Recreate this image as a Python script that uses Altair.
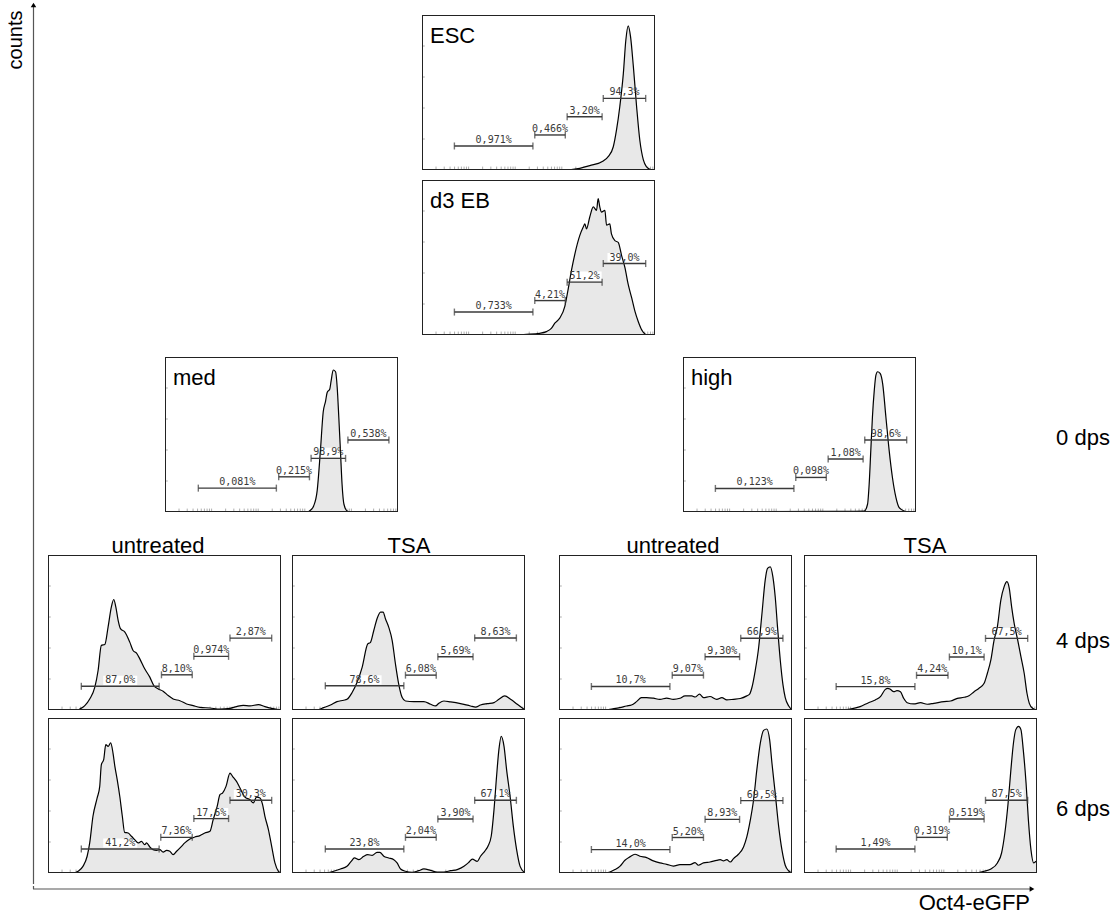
import math
import altair as alt
import pandas as pd

# ---------------- data (x = % of Oct4-eGFP axis, y = % of panel count scale) ----------------
ESC_X = [0, 60.5, 67.7, 72.0, 77.8, 79.9, 82.1, 83.5, 84.9, 86.4, 87.5, 88.5, 89.5, 90.7, 92.1, 93.5, 95.0, 96.4, 97.8, 100]
ESC_Y = [0, 0, 1.1, 2.8, 5.8, 8.6, 15, 26, 41, 62, 84, 93, 86, 67, 41, 19, 6.5, 2, 0.5, 0]
ESC_GATES = [(13.9, 47.6, 15.5, "0,971%"), (48.4, 61.5, 22.6, "0,466%"), (62.3, 77.3, 34.4, "3,20%"), (77.8, 96.0, 46.2, "94,3%")]

EB_X = [0, 40, 44.8, 50.5, 53.4, 55.5, 57.0, 59.1, 61.3, 62.7, 64.1, 65.6, 67.7, 69.2, 69.9, 70.6, 72.0, 73.5, 74.9, 75.6, 76.3, 77.0, 78.5, 79.2, 80.6, 81.3, 82.8, 84.2, 85.7, 87.1, 88.5, 90.0, 91.4, 92.8, 94.3, 96.4, 100]
EB_Y = [0, 0, 0.4, 1.1, 2.2, 4.3, 7.6, 10.9, 18.5, 29.3, 41.3, 52.2, 64.1, 69.6, 71.7, 68.5, 76.1, 82.6, 80.4, 88.0, 82.6, 79.3, 80.4, 70.9, 71.7, 65.2, 60.9, 59.8, 51.1, 43.5, 32.6, 23.9, 15.2, 8.7, 3.3, 0.2, 0]
EB_GATES = [(13.9, 47.6, 14.8, "0,733%"), (48.4, 61.5, 22.2, "4,21%"), (62.3, 77.3, 34.1, "51,2%"), (77.8, 96.0, 46.1, "39,0%")]

MED_X = [0, 61.0, 62.4, 63.8, 65.3, 66.7, 67.9, 68.9, 69.6, 70.7, 71.3, 72.2, 73.2, 73.9, 74.6, 75.3, 76.0, 76.8, 78.2, 79.6, 100]
MED_Y = [0, 0, 1.1, 3.9, 13.6, 39.6, 64.5, 71.4, 77.1, 79.2, 84.6, 91.6, 90.5, 80.5, 61.0, 39.4, 17.7, 5.0, 0.6, 0, 0]
MED_GATES = [(14.3, 47.8, 15.4, "0,081%"), (48.8, 62.0, 22.7, "0,215%"), (62.7, 77.5, 34.6, "98,9%"), (78.5, 96.1, 46.5, "0,538%")]

HIGH_X = [0, 65.6, 77.8, 79.2, 79.9, 80.6, 81.3, 82.1, 82.8, 83.5, 84.6, 85.7, 87.1, 88.5, 89.9, 91.4, 92.8, 95.0, 96.7, 100]
HIGH_Y = [0, 0.4, 0.6, 5.0, 18.0, 39.6, 61.3, 78.6, 88.3, 90.5, 89.4, 82.7, 61.0, 39.4, 22.1, 9.3, 2.8, 0.6, 0, 0]
HIGH_GATES = [(13.9, 47.6, 15.2, "0,123%"), (48.4, 61.5, 22.3, "0,098%"), (62.3, 77.3, 34.2, "1,08%"), (78.0, 96.0, 46.5, "98,6%")]

MU4_X = [0, 12.9, 13.6, 15.8, 17.9, 20.1, 21.5, 22.9, 24.4, 25.8, 27.2, 28.2, 29.1, 30.1, 31.1, 33.0, 35.1, 36.5, 38.0, 39.4, 41.5, 43.7, 45.4, 47.3, 49.4, 51.6, 53.7, 56.6, 59.5, 62.3, 65.2, 69.5, 73.8, 78.1, 80.9, 83.8, 86.7, 90.3, 93.1, 96.0, 100]
MU4_Y = [0, 0, 0.6, 2.8, 7.1, 14.7, 25.5, 41.7, 42.3, 53.6, 66.5, 71.3, 66.5, 57.9, 52.5, 50.3, 43.8, 38.4, 36.7, 33.0, 26.6, 21.2, 15.8, 13.6, 12.1, 9.3, 7.1, 6.0, 3.9, 2.8, 1.7, 1.3, 0.6, 1.1, 2.2, 3.0, 2.6, 3.5, 2.2, 1.1, 0]
MU4_GATES = [(14.3, 47.7, 15.3, "87,0%"), (48.7, 61.9, 22.7, "8,10%"), (62.6, 77.5, 34.6, "0,974%"), (78.1, 96.0, 46.4, "2,87%")]

MT4_X = [0, 10.7, 13.6, 16.5, 19.3, 22.2, 23.6, 25.8, 27.9, 30.1, 32.5, 33.7, 35.1, 36.5, 38.0, 39.1, 40.1, 41.5, 43.0, 44.4, 45.8, 47.3, 48.7, 52.3, 56.6, 59.5, 61.6, 63.0, 65.2, 68.1, 72.3, 76.6, 78.8, 80.9, 83.8, 86.7, 88.8, 91.3, 93.8, 96.7, 100]
MT4_Y = [0, 0, 1.5, 3.2, 5.4, 6.3, 6.9, 11.3, 17.7, 27.5, 42.6, 43.7, 51.3, 58.9, 63.2, 63.2, 58.9, 53.5, 44.8, 29.7, 16.7, 8.0, 5.8, 5.4, 5.4, 3.7, 2.6, 4.3, 5.8, 5.2, 4.1, 2.6, 1.9, 3.2, 4.1, 4.8, 6.9, 9.1, 6.9, 3.7, 0]
MT4_GATES = [(14.3, 48.0, 15.6, "78,6%"), (48.7, 61.9, 22.5, "6,08%"), (62.6, 77.7, 34.4, "5,69%"), (78.4, 96.3, 46.5, "8,63%")]

HU4_X = [0, 20.4, 21.8, 26.1, 29.0, 31.1, 33.3, 35.4, 37.6, 40.5, 43.3, 46.2, 49.1, 51.9, 54.1, 57.0, 58.4, 60.3, 62.0, 64.8, 67.7, 69.9, 72.0, 74.9, 77.8, 80.6, 81.8, 82.8, 84.2, 85.7, 87.1, 88.5, 89.5, 90.7, 91.8, 92.8, 93.8, 95.0, 96.1, 97.1, 98.6, 100]
HU4_Y = [0, 0, 0.4, 1.5, 2.6, 3.2, 5.4, 8.0, 8.0, 7.6, 6.9, 7.6, 6.9, 7.6, 9.1, 9.1, 8.4, 10.2, 8.0, 8.7, 6.9, 8.0, 6.5, 6.9, 7.4, 9.1, 10.2, 14.5, 25.3, 40.5, 62.1, 83.8, 91.3, 92.4, 85.9, 72.9, 53.3, 31.6, 16.5, 8.0, 2.6, 0]
HU4_GATES = [(13.9, 47.6, 15.2, "10,7%"), (48.6, 62.0, 22.5, "9,07%"), (62.7, 77.5, 34.4, "9,30%"), (78.0, 96.1, 46.3, "66,9%")]

HT4_X = [0, 15.5, 19.8, 24.1, 27.7, 30.6, 32.8, 34.9, 36.0, 37.1, 38.5, 39.9, 41.4, 42.8, 44.3, 47.1, 50.0, 52.9, 55.7, 60.1, 62.9, 65.8, 68.7, 70.8, 73.0, 75.1, 77.3, 78.7, 80.2, 81.6, 83.0, 84.5, 85.9, 87.1, 88.1, 89.1, 90.2, 91.7, 93.1, 94.5, 95.7, 96.7, 98.1, 100]
HT4_Y = [0, 0, 0.6, 2.2, 4.7, 6.5, 8.6, 13.3, 14.0, 13.3, 11.8, 12.5, 11.8, 7.5, 4.7, 3.9, 4.7, 3.7, 4.3, 5.4, 5.8, 7.5, 8.2, 9.2, 11.8, 14.0, 17.2, 23.7, 32.3, 45.2, 53.8, 71.0, 79.6, 82.8, 78.5, 66.7, 55.9, 45.2, 34.4, 23.7, 10.8, 4.3, 1.1, 0]
HT4_GATES = [(13.8, 47.6, 15.1, "15,8%"), (48.3, 61.8, 22.4, "4,24%"), (62.4, 77.3, 34.2, "10,1%"), (77.9, 96.0, 46.2, "67,5%")]

MU6_X = [0, 10.7, 12.9, 15.0, 16.8, 17.9, 19.3, 21.1, 22.2, 22.9, 23.9, 24.8, 25.8, 26.9, 27.9, 28.7, 29.7, 30.8, 31.9, 32.9, 34.4, 35.8, 37.2, 38.7, 40.1, 41.5, 42.3, 43.7, 45.1, 46.6, 48.0, 49.4, 50.9, 52.3, 53.7, 55.2, 57.3, 58.7, 60.9, 63.0, 65.2, 67.3, 69.5, 70.9, 72.6, 73.8, 74.9, 76.4, 78.1, 79.2, 80.9, 82.4, 84.5, 86.7, 88.1, 89.5, 91.0, 92.1, 93.1, 94.6, 96.0, 97.4, 98.9, 100]
MU6_Y = [0, 0, 1.1, 4.3, 10.8, 19.4, 36.6, 48.4, 55.9, 69.9, 73.1, 82.8, 81.7, 83.9, 77.4, 68.8, 60.2, 49.5, 36.6, 26.2, 25.8, 23.7, 21.5, 19.4, 20.4, 18.3, 19.4, 16.8, 15.1, 14.6, 15.1, 13.5, 14.6, 14.0, 11.8, 14.0, 17.2, 19.4, 21.9, 23.2, 24.1, 25.8, 26.9, 34.4, 43.0, 50.5, 51.6, 55.9, 64.5, 62.4, 59.1, 54.8, 49.0, 47.3, 45.2, 49.0, 48.4, 44.1, 36.6, 28.0, 17.2, 6.5, 1.1, 0]
MU6_GATES = [(14.3, 47.7, 15.5, "41,2%"), (48.4, 61.9, 23.0, "7,36%"), (62.6, 77.5, 35.1, "17,6%"), (78.1, 96.0, 46.9, "30,3%")]

MT6_X = [0, 15.0, 17.9, 20.8, 23.6, 25.4, 26.8, 28.7, 30.8, 32.5, 34.4, 36.5, 37.7, 39.4, 41.5, 43.7, 45.1, 46.6, 48.7, 51.6, 54.4, 56.6, 59.5, 62.3, 65.2, 68.1, 70.9, 73.8, 75.9, 77.4, 79.5, 80.9, 82.7, 84.1, 85.5, 86.7, 87.8, 88.8, 89.8, 91.0, 92.1, 93.6, 95.0, 96.4, 97.9, 100]
MT6_Y = [0, 0, 1.1, 2.6, 4.3, 7.5, 9.7, 8.6, 10.8, 11.8, 11.4, 13.3, 13.3, 10.8, 9.7, 8.6, 6.5, 2.6, 1.1, 0.4, 1.5, 2.6, 1.7, 0.6, 0.6, 1.5, 2.2, 4.3, 6.9, 9.0, 7.5, 10.8, 14.0, 17.2, 23.7, 40.9, 62.4, 79.6, 88.2, 81.7, 66.7, 49.5, 30.1, 15.1, 4.3, 0]
MT6_GATES = [(14.3, 48.0, 15.5, "23,8%"), (48.7, 61.9, 23.0, "2,04%"), (62.6, 77.7, 34.8, "3,90%"), (78.4, 96.3, 46.9, "67,1%")]

HU6_X = [0, 19.7, 21.8, 24.0, 26.1, 28.3, 30.4, 32.6, 34.7, 37.6, 40.5, 43.3, 46.2, 49.1, 51.9, 56.2, 58.4, 59.8, 62.0, 64.8, 67.7, 69.2, 70.6, 72.0, 73.5, 74.9, 77.0, 79.2, 80.6, 82.1, 83.5, 84.9, 86.4, 87.8, 89.2, 90.4, 91.4, 92.8, 94.3, 95.7, 97.1, 98.6, 100]
HU6_Y = [0, 0, 0.6, 2.2, 4.3, 8.2, 10.4, 12.1, 10.8, 9.9, 7.8, 6.5, 5.6, 4.5, 5.4, 5.4, 6.7, 5.0, 6.5, 7.1, 8.2, 8.6, 7.8, 8.6, 7.1, 9.3, 12.1, 16.8, 23.3, 34.1, 47.1, 66.5, 83.8, 92.0, 92.9, 86.0, 70.8, 51.4, 29.8, 14.7, 5.0, 1.3, 0]
HU6_GATES = [(13.9, 47.6, 15.1, "14,0%"), (48.6, 62.0, 22.9, "5,20%"), (62.7, 77.5, 34.6, "8,93%"), (78.0, 96.1, 46.7, "69,5%")]

HT6_X = [0, 73.7, 77.3, 80.2, 83.0, 84.8, 86.2, 87.6, 88.8, 89.9, 90.9, 92.1, 93.1, 94.1, 95.3, 96.3, 97.4, 98.6, 99.6, 99.9, 100]
HT6_Y = [0, 0, 1.1, 2.6, 6.5, 12.9, 25.8, 45.2, 66.7, 83.9, 92.5, 94.6, 92.5, 79.6, 58.1, 34.4, 15.1, 6.5, 7.5, 5.4, 0]
HT6_GATES = [(13.8, 47.6, 15.5, "1,49%"), (48.3, 61.5, 23.0, "0,319%"), (62.4, 77.3, 34.8, "0,519%"), (77.9, 96.0, 46.9, "87,5%")]

COLUMN_TITLES = ["untreated", "TSA", "untreated", "TSA"]
ROW_LABELS = ["0 dps", "4 dps", "6 dps"]

# log-style minor tick positions along the bottom of each panel (5 decades)
TICK_X = sorted({round(20 * d + 20 * math.log10(k), 2) for d in range(5) for k in range(1, 10)})
TICK_Y = [20, 40, 60, 80]

PW, PH = 233, 155
FILL = "#e8e8e8"
INK = "#3a3a3a"
SANS = "Liberation Sans"
XSC = alt.Scale(domain=[0, 100], nice=False, zero=False)
YSC = alt.Scale(domain=[0, 100], nice=False)
BOX = "M-1,-0.27H1V0.27H-1Z"


def spacer(w, h):
    return alt.Chart(pd.DataFrame({"s": [0]})).mark_point(opacity=0, size=1).encode(
        x=alt.value(w / 2), y=alt.value(h / 2)).properties(width=w, height=h)


def X(field):
    return alt.X(field, scale=XSC, axis=None)


def Y(field):
    return alt.Y(field, scale=YSC, axis=None)


def panel(xs, ys, gates, name=None):
    curve = pd.DataFrame({"x": xs, "y": ys})
    g = pd.DataFrame(gates, columns=["x1", "x2", "y", "label"])
    one = pd.DataFrame({"s": [0]})
    frame = alt.Chart(one).mark_rect(filled=False, stroke="#222222", strokeWidth=2, clip=True).encode(
        x=alt.datum(0, scale=XSC, axis=None), x2=alt.datum(100),
        y=alt.datum(0, scale=YSC, axis=None), y2=alt.datum(100))
    xt = alt.Chart(pd.DataFrame({"t": TICK_X})).mark_rule(color="#999999", strokeWidth=0.8, clip=True).encode(
        x=X("t:Q"), y=alt.datum(0, scale=YSC, axis=None), y2=alt.datum(2.2))
    yt = alt.Chart(pd.DataFrame({"t": TICK_Y})).mark_rule(color="#999999", strokeWidth=0.8, clip=True).encode(
        y=Y("t:Q"), x=alt.datum(0, scale=XSC, axis=None), x2=alt.datum(1.2))
    area = alt.Chart(curve).mark_area(color=FILL, interpolate="monotone", clip=True).encode(
        x=X("x:Q"), y=Y("y:Q"))
    line = alt.Chart(curve).mark_line(color="black", strokeWidth=1.2, interpolate="monotone", clip=True).encode(
        x=X("x:Q"), y=Y("y:Q"))
    glab = alt.Chart(g).transform_calculate(
        xm="(datum.x1 + datum.x2) / 2",
        sz="pow(length(datum.label) * 6 + 4, 2)")
    boxes = glab.mark_point(shape=BOX, filled=True, color="white", opacity=1, yOffset=-6, clip=True).encode(
        x=X("xm:Q"), y=Y("y:Q"), size=alt.Size("sz:Q", scale=None, legend=None))
    bars = alt.Chart(g).mark_rule(color=INK, strokeWidth=1.4, clip=True).encode(
        x=X("x1:Q"), x2="x2:Q", y=Y("y:Q"))
    cap1 = alt.Chart(g).mark_tick(orient="vertical", color=INK, size=7, thickness=1.4, clip=True).encode(
        x=X("x1:Q"), y=Y("y:Q"))
    cap2 = alt.Chart(g).mark_tick(orient="vertical", color=INK, size=7, thickness=1.4, clip=True).encode(
        x=X("x2:Q"), y=Y("y:Q"))
    labels = glab.mark_text(dy=-6, fontSize=10, font="DejaVu Sans Mono", color=INK, clip=True).encode(
        x=X("xm:Q"), y=Y("y:Q"), text="label:N")
    layers = [xt, yt, area, boxes, line, bars, cap1, cap2, labels, frame]
    if name:
        layers.append(alt.Chart(pd.DataFrame({"t": [name]})).mark_text(
            align="left", baseline="alphabetic", fontSize=22, font=SANS, color="black", clip=True).encode(
            x=alt.value(8), y=alt.value(28), text="t:N"))
    return alt.layer(*layers).properties(width=PW, height=PH)


def text_cell(text, w, h, x, y, align="center", baseline="alphabetic", size=22):
    return alt.Chart(pd.DataFrame({"t": [text]})).mark_text(
        align=align, baseline=baseline, fontSize=size, font=SANS, color="black", clip=True).encode(
        x=alt.value(x), y=alt.value(y), text="t:N").properties(width=w, height=h)


def hrow(*items):
    return alt.hconcat(*items, spacing=0)


rowA = hrow(spacer(374, PH), panel(ESC_X, ESC_Y, ESC_GATES, "ESC"))
rowB = hrow(spacer(374, PH), panel(EB_X, EB_Y, EB_GATES, "d3 EB"))
rowC = hrow(spacer(117, PH), panel(MED_X, MED_Y, MED_GATES, "med"), spacer(285, PH),
            panel(HIGH_X, HIGH_Y, HIGH_GATES, "high"), spacer(124, PH),
            text_cell(ROW_LABELS[0], 77, PH, 43, 88))
titles = hrow(text_cell(COLUMN_TITLES[0], PW, 43, 110, 41), spacer(11, 43),
              text_cell(COLUMN_TITLES[1], PW, 43, 117, 41), spacer(34, 43),
              text_cell(COLUMN_TITLES[2], PW, 43, 114, 41), spacer(12, 43),
              text_cell(COLUMN_TITLES[3], PW, 43, 121, 41))
rowD = hrow(panel(MU4_X, MU4_Y, MU4_GATES), spacer(11, PH),
            panel(MT4_X, MT4_Y, MT4_GATES), spacer(34, PH),
            panel(HU4_X, HU4_Y, HU4_GATES), spacer(12, PH),
            panel(HT4_X, HT4_Y, HT4_GATES), spacer(3, PH),
            text_cell(ROW_LABELS[1], 77, PH, 43, 93))
rowE = hrow(panel(MU6_X, MU6_Y, MU6_GATES), spacer(11, PH),
            panel(MT6_X, MT6_Y, MT6_GATES), spacer(34, PH),
            panel(HU6_X, HU6_Y, HU6_GATES), spacer(12, PH),
            panel(HT6_X, HT6_Y, HT6_GATES), spacer(3, PH),
            text_cell(ROW_LABELS[2], 77, PH, 43, 98))

grid = alt.vconcat(spacer(10, 15), rowA, spacer(10, 10), rowB, spacer(10, 22), rowC,
                   titles, rowD, spacer(10, 8), rowE, spacer(10, 11), spacing=0)

AXIS_INK = "#555555"
one = pd.DataFrame({"s": [0]})
yline = alt.Chart(one).mark_rule(color=AXIS_INK, strokeWidth=1.2).encode(
    x=alt.value(33.5), y=alt.value(4), y2=alt.value(884))
yarrow = alt.Chart(one).mark_point(shape="triangle-up", filled=True, color="black", size=30, opacity=1).encode(
    x=alt.value(33.5), y=alt.value(5))
ylabel = alt.Chart(pd.DataFrame({"t": ["counts"]})).mark_text(
    angle=270, fontSize=20, font=SANS, color="black", align="center", baseline="middle").encode(
    x=alt.value(16), y=alt.value(40), text="t:N")
ycol = alt.layer(yline, yarrow, ylabel).properties(width=48, height=884)

upper = alt.hconcat(ycol, grid, spacing=0)

yline2 = alt.Chart(one).mark_rule(color=AXIS_INK, strokeWidth=1.2).encode(
    x=alt.value(33.5), y=alt.value(0), y2=alt.value(3))
xline = alt.Chart(one).mark_rule(color=AXIS_INK, strokeWidth=1.2).encode(
    x=alt.value(33), x2=alt.value(1031), y=alt.value(3))
xarrow = alt.Chart(one).mark_point(shape="triangle-right", filled=True, color="black", size=30, opacity=1).encode(
    x=alt.value(1032), y=alt.value(3))
xlabel = alt.Chart(pd.DataFrame({"t": ["Oct4-eGFP"]})).mark_text(
    fontSize=22, font=SANS, color="black", align="right", baseline="bottom", clip=True).encode(
    x=alt.value(1030), y=alt.value(29), text="t:N")
xrow = alt.layer(yline2, xline, xarrow, xlabel).properties(width=1117, height=30)

chart = alt.vconcat(upper, xrow, spacing=0).properties(
    padding=0, background="white"
).configure_view(strokeWidth=0)

chart.save("out.html", embed_options={"renderer": "svg", "actions": False})
